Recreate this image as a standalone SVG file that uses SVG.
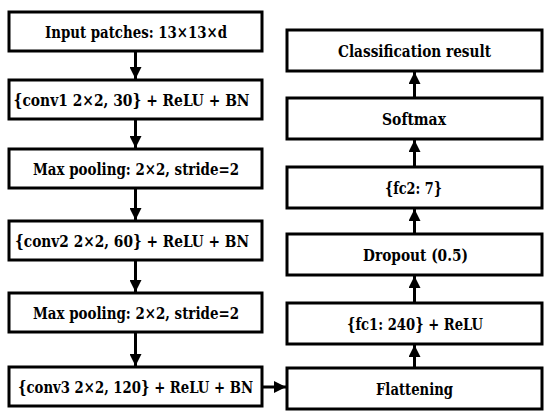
<svg xmlns="http://www.w3.org/2000/svg" width="550" height="418" viewBox="0 0 550 418">
<style>
.box{fill:#fff;stroke:#000;stroke-width:3}
.t{font-family:"DejaVu Serif Condensed","DejaVu Serif",serif;font-weight:bold;font-size:16.5px;text-anchor:middle;fill:#000}
.c{stroke:#000;stroke-width:3;fill:none}
</style>
<defs>
<marker id="ah" viewBox="0 0 10 10" refX="10" refY="5" markerWidth="4" markerHeight="4" orient="auto" markerUnits="strokeWidth">
<path d="M0,0L10,5L0,10z" fill="#000"/>
</marker>
</defs>
<rect width="550" height="418" fill="#fff"/>
<g id="n1"><rect class="box" x="9" y="12" width="253" height="39"/><text class="t" x="136" y="37.5" textLength="182" lengthAdjust="spacingAndGlyphs">Input patches: 13×13×d</text></g>
<g id="n2"><rect class="box" x="9" y="80" width="253" height="39"/><text class="t" x="131.5" y="105.5" textLength="236" lengthAdjust="spacingAndGlyphs">{conv1 2×2, 30} + ReLU + BN</text></g>
<g id="n3"><rect class="box" x="9" y="149" width="253" height="39"/><text class="t" x="136" y="174.5" textLength="206" lengthAdjust="spacingAndGlyphs">Max pooling: 2×2, stride=2</text></g>
<g id="n4"><rect class="box" x="9" y="221" width="253" height="39"/><text class="t" x="132" y="246.5" textLength="234" lengthAdjust="spacingAndGlyphs">{conv2 2×2, 60} + ReLU + BN</text></g>
<g id="n5"><rect class="box" x="9" y="293" width="253" height="39"/><text class="t" x="136" y="318.5" textLength="206" lengthAdjust="spacingAndGlyphs">Max pooling: 2×2, stride=2</text></g>
<g id="n6"><rect class="box" x="9" y="367" width="253" height="39"/><text class="t" x="135.5" y="392.5" textLength="235" lengthAdjust="spacingAndGlyphs">{conv3 2×2, 120} + ReLU + BN</text></g>
<g id="n7"><rect class="box" x="287" y="368" width="255" height="41"/><text class="t" x="414.5" y="394.5" textLength="77" lengthAdjust="spacingAndGlyphs">Flattening</text></g>
<g id="n8"><rect class="box" x="287" y="303" width="255" height="41"/><text class="t" x="415" y="329.5" textLength="136" lengthAdjust="spacingAndGlyphs">{fc1: 240} + ReLU</text></g>
<g id="n9"><rect class="box" x="287" y="234" width="255" height="41"/><text class="t" x="415.5" y="260.5" textLength="105" lengthAdjust="spacingAndGlyphs">Dropout (0.5)</text></g>
<g id="n10"><rect class="box" x="287" y="167" width="255" height="41"/><text class="t" x="413.5" y="193.5" textLength="57" lengthAdjust="spacingAndGlyphs">{fc2: 7}</text></g>
<g id="n11"><rect class="box" x="287" y="98" width="255" height="41"/><text class="t" x="414" y="124.5" textLength="64" lengthAdjust="spacingAndGlyphs">Softmax</text></g>
<g id="n12"><rect class="box" x="287" y="30" width="255" height="41"/><text class="t" x="414.5" y="56.5" textLength="153" lengthAdjust="spacingAndGlyphs">Classification result</text></g>
<g id="connectors">
<line class="c" x1="135.5" y1="51" x2="135.5" y2="79" marker-end="url(#ah)"/>
<line class="c" x1="135.5" y1="119" x2="135.5" y2="148" marker-end="url(#ah)"/>
<line class="c" x1="135.5" y1="188" x2="135.5" y2="220" marker-end="url(#ah)"/>
<line class="c" x1="135.5" y1="260" x2="135.5" y2="292" marker-end="url(#ah)"/>
<line class="c" x1="135.5" y1="332" x2="135.5" y2="366" marker-end="url(#ah)"/>
<line class="c" x1="262" y1="387" x2="286" y2="387" marker-end="url(#ah)"/>
<line class="c" x1="414.5" y1="368" x2="414.5" y2="345" marker-end="url(#ah)"/>
<line class="c" x1="414.5" y1="303" x2="414.5" y2="276" marker-end="url(#ah)"/>
<line class="c" x1="414.5" y1="234" x2="414.5" y2="209" marker-end="url(#ah)"/>
<line class="c" x1="414.5" y1="167" x2="414.5" y2="140" marker-end="url(#ah)"/>
<line class="c" x1="414.5" y1="98" x2="414.5" y2="72" marker-end="url(#ah)"/>
</g>
</svg>
